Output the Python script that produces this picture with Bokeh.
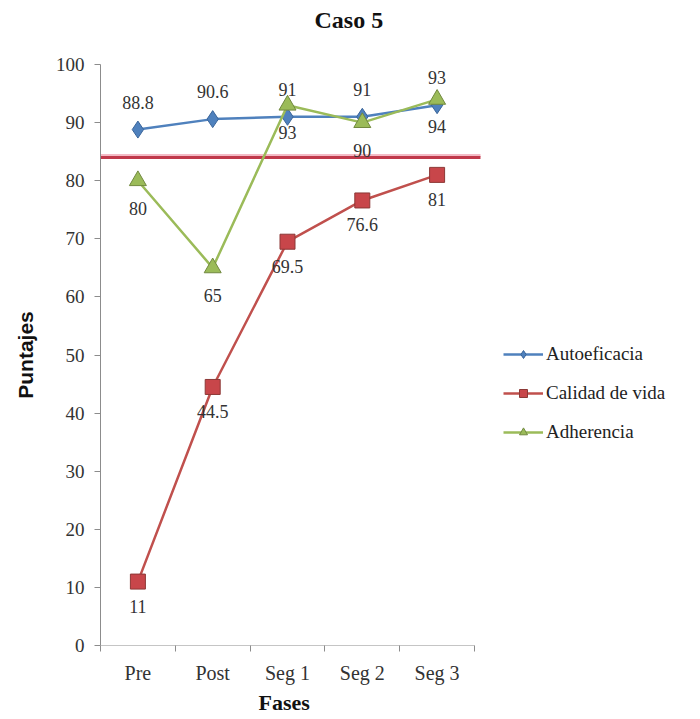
from bokeh.plotting import figure
from bokeh.models import (FixedTicker, Range1d, Legend, LegendItem, ColumnDataSource, Title)
from bokeh.core.properties import value
from bokeh.embed import file_html
from bokeh.resources import INLINE

# ---- data ----
fases = ["Pre", "Post", "Seg 1", "Seg 2", "Seg 3"]
autoeficacia = [88.8, 90.6, 91, 91, 93]
calidad_vida = [11, 44.5, 69.5, 76.6, 81]
adherencia = [80, 65, 93, 90, 94]
umbral = 84
y_ticks = [0, 10, 20, 30, 40, 50, 60, 70, 80, 90, 100]

xs = list(range(1, len(fases) + 1))
bounds = [i + 0.5 for i in range(0, len(fases) + 1)]
x_start, x_stop = 0.5, len(fases) + 0.5

# layout: the frame spans from x=100 px to the right edge; the part beyond the
# last category is kept free for the legend.
LEFT, AXIS_END, WIDTH = 100, 474, 700
px_per_unit = (AXIS_END - LEFT) / len(fases)
x_view_end = x_stop + (WIDTH - AXIS_END) / px_per_unit

SERIF = value("Liberation Serif")

p = figure(width=WIDTH, height=719, output_backend="svg", toolbar_location=None, title=None,
           x_range=Range1d(x_start, x_view_end), y_range=Range1d(0, 100),
           min_border_left=LEFT, min_border_right=0, min_border_top=64,
           min_border_bottom=74)
p.outline_line_color = None
p.grid.grid_line_color = None
p.background_fill_color = "white"

# spacer (closest to the frame) then the real title above it
p.add_layout(Title(text=" ", text_font_size="10px", standoff=19), "above")
p.add_layout(Title(text="Caso 5", text_font="Liberation Serif", text_font_size="24px",
                   text_font_style="bold", align="left", offset=214, standoff=0,
                   text_color="#111111"), "above")

AXIS_COLOR = "#8c8c8c"

# x axis (its line is drawn only over the categories, below)
xa = p.xaxis[0]
xa.ticker = FixedTicker(ticks=xs, minor_ticks=bounds)
xa.major_label_overrides = {x: f for x, f in zip(xs, fases)}
xa.major_tick_line_color = None
xa.minor_tick_out = 6
xa.minor_tick_in = 0
xa.minor_tick_line_color = AXIS_COLOR
xa.axis_line_color = None
xa.major_label_text_font = "Liberation Serif"
xa.major_label_text_font_size = "20px"
xa.major_label_text_color = "#333333"
xa.major_label_standoff = 10

# x axis title, centred under the categories
p.add_layout(Title(text="Fases", text_font="Liberation Serif", text_font_size="22px",
                   text_font_style="bold", align="left", offset=158, standoff=2,
                   text_color="#111111"), "below")

# y axis
ya = p.yaxis[0]
ya.ticker = FixedTicker(ticks=y_ticks, minor_ticks=[])
ya.major_tick_out = 6
ya.major_tick_in = 0
ya.major_tick_line_color = AXIS_COLOR
ya.axis_line_color = AXIS_COLOR
ya.major_label_text_font = "Liberation Serif"
ya.major_label_text_font_size = "19px"
ya.major_label_text_color = "#333333"
ya.major_label_standoff = 10
ya.axis_label = "Puntajes"
ya.axis_label_text_font = "Liberation Sans Narrow, Liberation Sans"
ya.axis_label_text_font_style = "bold"
ya.axis_label_text_font_size = "21px"
ya.axis_label_standoff = 16
ya.axis_label_text_color = "#111111"

# x axis baseline over the category span
p.segment(x0=[x_start], y0=[0], x1=[x_stop], y1=[0], line_color=AXIS_COLOR, line_width=1)

# threshold line with a soft pink halo
p.segment(x0=[x_start], y0=[umbral + 0.35], x1=[x_stop + 0.08], y1=[umbral + 0.35],
          line_color="#f3b3bf", line_width=3, line_alpha=0.9)
p.segment(x0=[x_start], y0=[umbral], x1=[x_stop + 0.08], y1=[umbral],
          line_color="#c0394b", line_width=3)

src = ColumnDataSource(dict(x=xs, a=autoeficacia, c=calidad_vida, h=adherencia,
                            at=[str(v) for v in autoeficacia],
                            ct=[str(v) for v in calidad_vida],
                            ht=[str(v) for v in adherencia]))

la = p.line("x", "a", source=src, line_color="#4f81bd", line_width=2.5)
ma = p.scatter("x", "a", source=src, marker="diamond", size=17, fill_color="#4f81bd", line_color="#3a659a")
lc = p.line("x", "c", source=src, line_color="#c0504d", line_width=2.5)
mc = p.scatter("x", "c", source=src, marker="square", size=15, fill_color="#c8464a", line_color="#8c3836")
lh = p.line("x", "h", source=src, line_color="#9bbb59", line_width=2.5)
mh = p.scatter("x", "h", source=src, marker="triangle", size=17, fill_color="#9bbb59", line_color="#71893f")

common = dict(source=src, text_font=SERIF, text_font_size="18px", text_color="#333333", text_align="center")
p.text("x", "a", text="at", text_baseline="bottom", y_offset=-21, **common)
p.text("x", "c", text="ct", text_baseline="top", y_offset=18, **common)
p.text("x", "h", text="ht", text_baseline="top", y_offset=21, **common)

legend = Legend(items=[LegendItem(label="Autoeficacia", renderers=[la, ma]),
                       LegendItem(label="Calidad de vida", renderers=[lc, mc]),
                       LegendItem(label="Adherencia", renderers=[lh, mh])],
                location=(403, 202))
legend.border_line_color = None
legend.background_fill_alpha = 0
legend.padding = 0
legend.margin = 0
legend.spacing = 17
legend.glyph_width = 40
legend.glyph_height = 20
legend.label_height = 20
legend.label_standoff = 3
legend.label_text_font = "Liberation Serif"
legend.label_text_font_size = "19px"
legend.label_text_color = "#222222"
p.add_layout(legend, "center")

open("out.html", "w").write(file_html(p, INLINE))
